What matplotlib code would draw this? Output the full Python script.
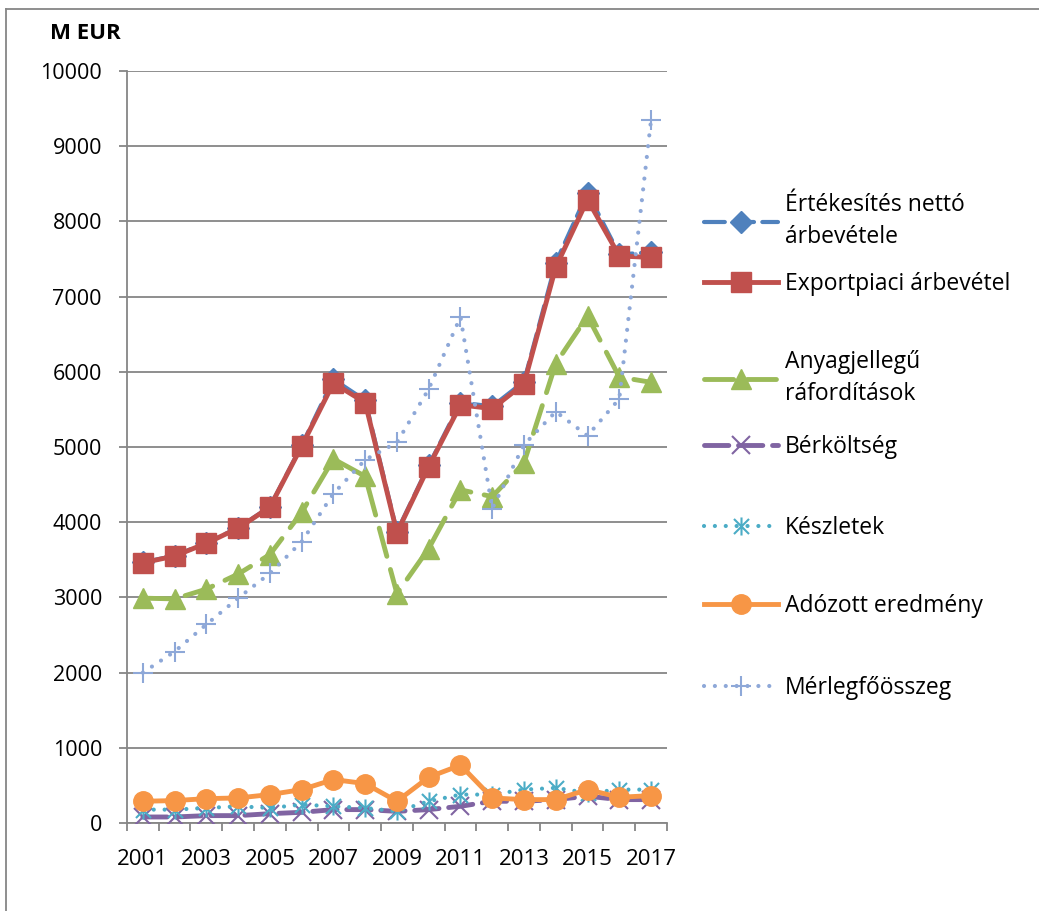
import matplotlib.pyplot as plt
from matplotlib.path import Path
from matplotlib.lines import Line2D

plt.rcParams['font.family'] = ['Open Sans', 'DejaVu Sans']

years = list(range(2001, 2018))
ertekesites = [3465, 3555, 3725, 3925, 4205, 5020, 5900, 5620, 3875, 4755, 5590, 5540, 5870, 7450, 8380, 7560, 7590]
export = [3460, 3550, 3720, 3920, 4200, 5010, 5850, 5590, 3860, 4740, 5560, 5510, 5840, 7390, 8290, 7540, 7520]
anyag = [2990, 2980, 3110, 3310, 3570, 4130, 4840, 4610, 3050, 3650, 4430, 4340, 4790, 6110, 6740, 5930, 5860]
berkoltseg = [80, 80, 98, 98, 124, 142, 178, 178, 155, 178, 222, 289, 289, 311, 356, 311, 311]
keszletek = [178, 178, 200, 222, 200, 244, 222, 200, 155, 289, 378, 378, 444, 467, 400, 444, 444]
adozott = [289, 298, 324, 333, 378, 444, 578, 524, 289, 609, 769, 333, 311, 311, 444, 342, 364]
merleg = [2000, 2280, 2640, 2990, 3320, 3740, 4380, 4830, 5060, 5770, 6730, 4180, 5030, 5470, 5150, 5640, 9350]

labels = ['Értékesítés nettó\nárbevétele', 'Exportpiaci árbevétel', 'Anyagjellegű\nráfordítások',
          'Bérköltség', 'Készletek', 'Adózott eredmény', 'Mérlegfőösszeg']

# Excel style asterisk marker
star = Path([(-1, -1), (1, 1), (-1, 1), (1, -1), (0, -1.2), (0, 1.2)],
            [Path.MOVETO, Path.LINETO, Path.MOVETO, Path.LINETO, Path.MOVETO, Path.LINETO])

fig = plt.figure(figsize=(10.39, 9.11), dpi=100)
ax = fig.add_axes([0.1222, 0.0966, 0.5197, 0.8255])
x = list(range(len(years)))

lines = []
lines += ax.plot(x, ertekesites, color='#4F81BD', lw=3, linestyle=(0, (5, 2)), dash_capstyle='round',
                 marker='D', markersize=11, zorder=3)
lines += ax.plot(x, export, color='#C0504D', lw=3.5, marker='s', markersize=14, zorder=4)
lines += ax.plot(x, anyag, color='#9BBB59', lw=3.5, linestyle=(0, (6, 2.8)), dash_capstyle='round',
                 marker='^', markersize=15, zorder=3)
lines += ax.plot(x, berkoltseg, color='#8064A2', lw=3.5, linestyle=(0, (5, 2)), dash_capstyle='round',
                 marker='x', markersize=13, markeredgewidth=1.5, zorder=3)
lines += ax.plot(x, keszletek, color='#4BACC6', lw=3, linestyle=(0, (0.01, 2.6)), dash_capstyle='round',
                 marker=star, markersize=13, markeredgewidth=1.5, zorder=3)
lines += ax.plot(x, adozott, color='#F79646', lw=3.5, marker='o', markersize=14, zorder=4)
lines += ax.plot(x, merleg, color='#8EA8D8', lw=3, linestyle=(0, (0.01, 2.6)), dash_capstyle='round',
                 marker='+', markersize=15, markeredgewidth=1.5, zorder=5)

ax.set_ylim(0, 10000)
ax.set_xlim(-0.5, len(years) - 0.5)
ax.set_yticks(range(0, 10001, 1000))
ax.yaxis.grid(True, color='#868686', lw=1.3)
ax.set_axisbelow(True)

# tick marks between categories, labels every other year
ax.set_xticks([i - 0.5 for i in range(len(years) + 1)])
ax.set_xticklabels([])
ax.set_xticks(x[::2], minor=True)
ax.set_xticklabels([str(y) for y in years[::2]], minor=True)
ax.tick_params(axis='x', which='major', length=6, width=1.3, color='#868686', direction='out')
ax.tick_params(axis='x', which='minor', length=0, pad=19, labelsize=16)
ax.tick_params(axis='y', length=6, width=1.3, color='#868686', pad=12, labelsize=15.5)

for s in ['top', 'right']:
    ax.spines[s].set_visible(False)
for s in ['left', 'bottom']:
    ax.spines[s].set_color('#868686')
    ax.spines[s].set_linewidth(1.3)

fig.text(0.048, 0.963, 'M EUR', fontsize=16, fontweight='bold', va='center', ha='left')

# Excel spreads the legend entries unevenly, so place each one
legend_y = [221, 284, 378, 447, 528, 606, 688]
for h, lab, yp in zip(lines, labels, legend_y):
    leg = fig.legend(handles=[h], labels=[lab], loc='center left', bbox_to_anchor=(0.678, 1 - yp / 911),
                     frameon=False, fontsize=16.5, handlelength=3.2, handletextpad=0.3, borderpad=0,
                     borderaxespad=0, numpoints=1)
    for t in leg.get_texts():
        t.set_linespacing(1.4)

# chart border
fig.add_artist(Line2D([0.006, 0.006], [0, 0.99], color='#868686', lw=1.3))
fig.add_artist(Line2D([0.006, 1], [0.99, 0.99], color='#868686', lw=1.3))

fig.savefig('out.png', dpi=100)
